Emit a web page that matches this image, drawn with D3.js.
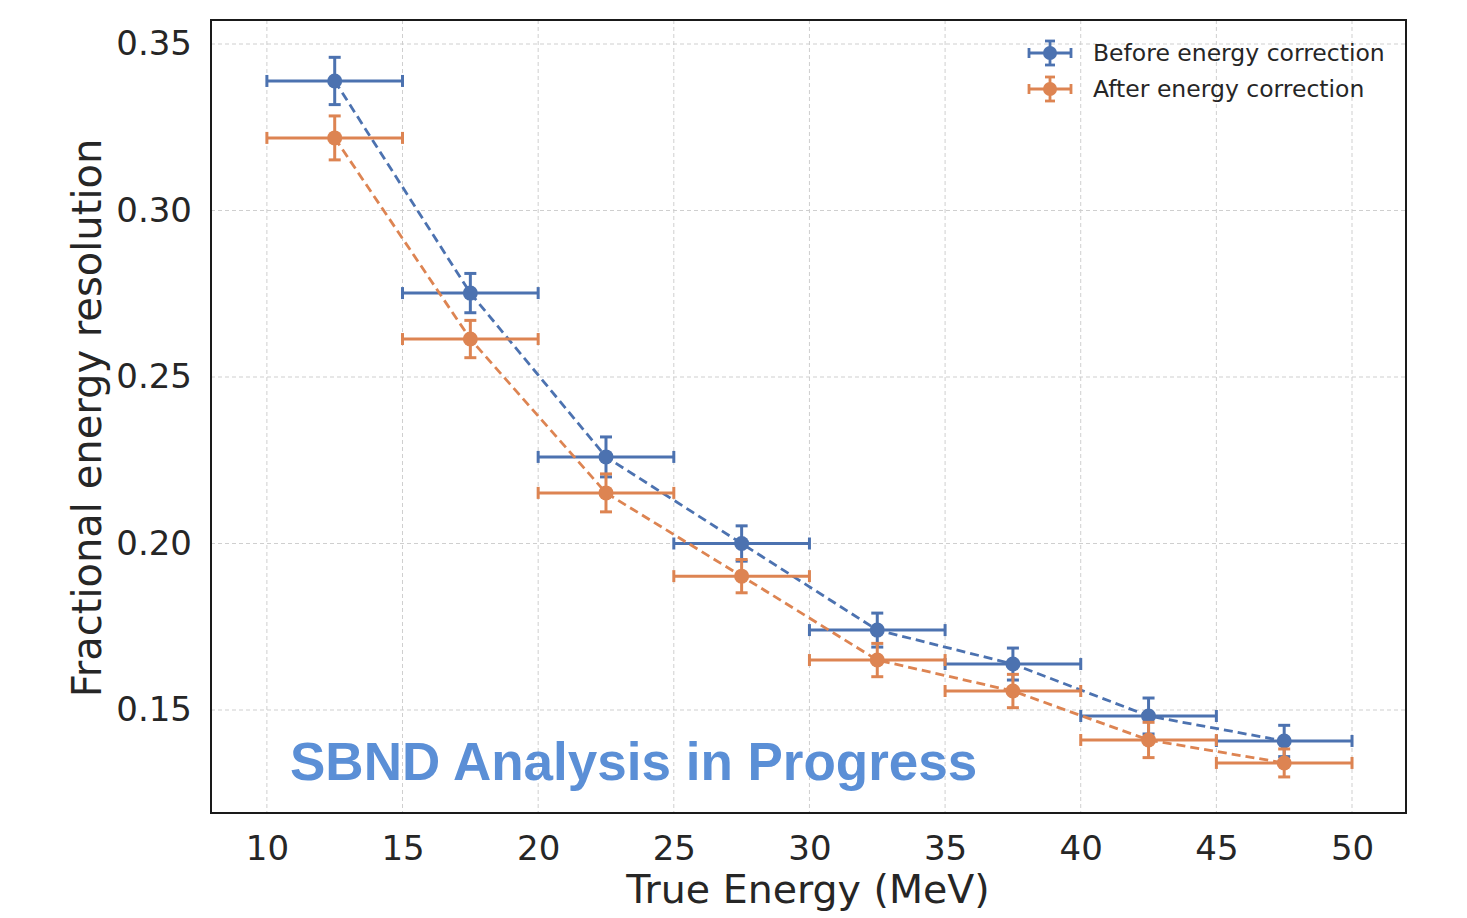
<!DOCTYPE html>
<html><head><meta charset="utf-8">
<script src="https://cdn.jsdelivr.net/npm/d3@7"></script>
<style>body{margin:0;background:#fff}svg{display:block}</style>
</head><body>
<script>
const xCenters = [12.5, 17.5, 22.5, 27.5, 32.5, 37.5, 42.5, 47.5];
const xHalfWidth = [2.5, 2.5, 2.5, 2.5, 2.5, 2.5, 2.5, 2.5];
const beforeVals = [0.3389, 0.2752, 0.2260, 0.2000, 0.1740, 0.1638, 0.1482, 0.1407];
const beforeErr  = [0.0071, 0.0059, 0.0060, 0.0053, 0.0051, 0.0048, 0.0054, 0.0047];
const afterVals  = [0.3218, 0.2614, 0.2152, 0.1902, 0.1650, 0.1557, 0.1410, 0.1341];
const afterErr   = [0.0066, 0.0056, 0.0057, 0.0050, 0.0050, 0.0050, 0.0053, 0.0042];
const xTicks = [10, 15, 20, 25, 30, 35, 40, 45, 50];
const yTicks = [0.15, 0.20, 0.25, 0.30, 0.35];
const seriesNames = ["Before energy correction", "After energy correction"];
const seriesColors = ["#4c72b0", "#dd8452"];

const W = 1467, H = 918;
const m = {l: 211, r: 1406, t: 20, b: 813};
const svg = d3.select("body").append("svg").attr("width", W).attr("height", H);
const x = d3.scaleLinear().domain([7.94, 51.99]).range([m.l, m.r]);
const y = d3.scaleLinear().domain([0.15 - 103/3330, 0.35 + 24/3330]).range([m.b, m.t]);

// grid
const g = svg.append("g");
g.selectAll(".gx").data(xTicks).enter().append("line")
  .attr("x1", d => x(d)).attr("x2", d => x(d)).attr("y1", m.t).attr("y2", m.b)
  .attr("stroke", "#cfcfcf").attr("stroke-width", 1).attr("stroke-dasharray", "4,3");
g.selectAll(".gy").data(yTicks).enter().append("line")
  .attr("y1", d => y(d)).attr("y2", d => y(d)).attr("x1", m.l).attr("x2", m.r)
  .attr("stroke", "#cfcfcf").attr("stroke-width", 1).attr("stroke-dasharray", "4,3");

// axes via d3 axes (ticks hidden, labels only)
const xAxis = svg.append("g").attr("transform", `translate(0,${m.b})`)
  .call(d3.axisBottom(x).tickValues(xTicks).tickSize(0).tickPadding(23).tickFormat(d3.format("d")));
xAxis.select(".domain").remove();
xAxis.selectAll("text").attr("font-family", "DejaVu Sans").attr("font-size", 34).attr("fill", "#262626");
const yAxis = svg.append("g").attr("transform", `translate(${m.l},0)`)
  .call(d3.axisLeft(y).tickValues(yTicks).tickSize(0).tickPadding(19).tickFormat(d3.format(".2f")));
yAxis.select(".domain").remove();
yAxis.selectAll("text").attr("font-family", "DejaVu Sans").attr("font-size", 34).attr("fill", "#262626");

// series
const series = [
  {vals: beforeVals, err: beforeErr, color: seriesColors[0]},
  {vals: afterVals, err: afterErr, color: seriesColors[1]}
];
const cap = 6;
series.forEach(s => {
  const pts = xCenters.map((c, i) => ({x: c, hw: xHalfWidth[i], y: s.vals[i], e: s.err[i]}));
  const gg = svg.append("g");
  gg.append("path").datum(pts)
    .attr("d", d3.line().x(d => x(d.x)).y(d => y(d.y)))
    .attr("fill", "none").attr("stroke", s.color).attr("stroke-width", 2.8).attr("stroke-dasharray", "9,5");
  const eb = gg.selectAll(".eb").data(pts).enter().append("g").attr("stroke", s.color).attr("stroke-width", 3);
  eb.append("line").attr("x1", d => x(d.x - d.hw)).attr("x2", d => x(d.x + d.hw)).attr("y1", d => y(d.y)).attr("y2", d => y(d.y));
  eb.append("line").attr("x1", d => x(d.x - d.hw)).attr("x2", d => x(d.x - d.hw)).attr("y1", d => y(d.y) - cap).attr("y2", d => y(d.y) + cap);
  eb.append("line").attr("x1", d => x(d.x + d.hw)).attr("x2", d => x(d.x + d.hw)).attr("y1", d => y(d.y) - cap).attr("y2", d => y(d.y) + cap);
  eb.append("line").attr("x1", d => x(d.x)).attr("x2", d => x(d.x)).attr("y1", d => y(d.y - d.e)).attr("y2", d => y(d.y + d.e));
  eb.append("line").attr("x1", d => x(d.x) - cap).attr("x2", d => x(d.x) + cap).attr("y1", d => y(d.y + d.e)).attr("y2", d => y(d.y + d.e));
  eb.append("line").attr("x1", d => x(d.x) - cap).attr("x2", d => x(d.x) + cap).attr("y1", d => y(d.y - d.e)).attr("y2", d => y(d.y - d.e));
  gg.selectAll("circle").data(pts).enter().append("circle")
    .attr("cx", d => x(d.x)).attr("cy", d => y(d.y)).attr("r", 7.5).attr("fill", s.color);
});

// frame
svg.append("rect").attr("x", m.l).attr("y", m.t).attr("width", m.r - m.l).attr("height", m.b - m.t)
  .attr("fill", "none").attr("stroke", "#1a1a1a").attr("stroke-width", 2);

// legend
const leg = svg.append("g");
seriesNames.forEach((n, i) => {
  const cy = 53 + i * 36, cx = 1050, c = seriesColors[i];
  const lg = leg.append("g").attr("stroke", c).attr("stroke-width", 2.8);
  lg.append("line").attr("x1", cx - 21).attr("x2", cx + 21).attr("y1", cy).attr("y2", cy);
  lg.append("line").attr("x1", cx - 21).attr("x2", cx - 21).attr("y1", cy - 5).attr("y2", cy + 5);
  lg.append("line").attr("x1", cx + 21).attr("x2", cx + 21).attr("y1", cy - 5).attr("y2", cy + 5);
  lg.append("line").attr("x1", cx).attr("x2", cx).attr("y1", cy - 12).attr("y2", cy + 12);
  lg.append("line").attr("x1", cx - 5).attr("x2", cx + 5).attr("y1", cy - 12).attr("y2", cy - 12);
  lg.append("line").attr("x1", cx - 5).attr("x2", cx + 5).attr("y1", cy + 12).attr("y2", cy + 12);
  leg.append("circle").attr("cx", cx).attr("cy", cy).attr("r", 7).attr("fill", c);
  leg.append("text").attr("x", 1093).attr("y", cy + 8).text(n)
    .attr("font-family", "DejaVu Sans").attr("font-size", 23.5).attr("fill", "#262626");
});

// axis titles
svg.append("text").attr("x", 808).attr("y", 903).attr("text-anchor", "middle")
  .attr("font-family", "DejaVu Sans").attr("font-size", 39.5).attr("fill", "#262626").text("True Energy (MeV)");
svg.append("text").attr("transform", `translate(101,418) rotate(-90)`).attr("text-anchor", "middle")
  .attr("font-family", "DejaVu Sans").attr("font-size", 40).attr("fill", "#262626").text("Fractional energy resolution");

// watermark
svg.append("text").attr("x", 290).attr("y", 780).attr("font-family", "Liberation Sans, Arial").attr("font-weight", "bold")
  .attr("font-size", 53).attr("fill", "#5b8fd6").text("SBND Analysis in Progress");
</script>
</body></html>
